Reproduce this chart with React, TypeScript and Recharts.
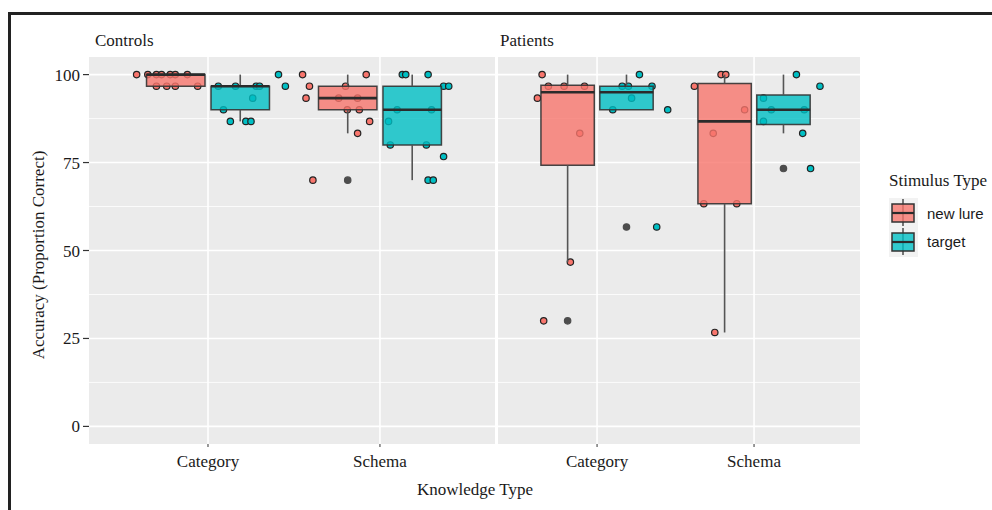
import React from 'react';
import {
  ScatterChart, Scatter, XAxis, YAxis, CartesianGrid,
  ReferenceArea, ReferenceLine
} from 'recharts';

const KNOWLEDGE = ['Category', 'Schema'];
const STIMULI = ['new lure', 'target'];
const COLORS = ['#F8766D', '#00BFC4'];

const Y_TICKS = [0, 25, 50, 75, 100];
const Y_MINOR = [12.5, 37.5, 62.5, 87.5];

// box stats, one row per knowledge type: [lower whisker, Q1, median, Q3, upper whisker]
const controlsLureStats = [[96.7, 96.7, 100, 100, 100], [83.3, 90, 93.3, 96.7, 100]];
const controlsTargetStats = [[86.7, 90, 96.7, 96.7, 100], [70, 80, 90, 96.7, 100]];
const patientsLureStats = [[46.7, 74.2, 95, 97, 100], [26.7, 63.3, 86.7, 97.5, 100]];
const patientsTargetStats = [[90, 90, 95, 96.7, 100], [83.3, 85.8, 90, 94.2, 100]];

// outliers: [knowledge index, stimulus index, value]
const controlsOutliers = [[1, 0, 70]];
const patientsOutliers = [[0, 0, 30], [0, 1, 56.7], [1, 1, 73.3]];

// jittered participant points: [position on knowledge axis (1 = Category, 2 = Schema), accuracy]
const controlsLurePts = [
  [0.585, 100], [0.65, 100], [0.70, 100], [0.73, 100], [0.78, 100], [0.81, 100], [0.88, 100],
  [0.70, 96.7], [0.76, 96.7], [0.81, 96.7], [0.94, 96.7],
  [1.55, 100], [1.92, 100], [1.59, 96.7], [1.80, 96.7],
  [1.57, 93.3], [1.76, 93.3], [1.87, 93.3], [1.81, 90], [1.88, 90],
  [1.94, 86.7], [1.87, 83.3], [1.61, 70],
];
const controlsTargetPts = [
  [1.06, 96.7], [1.16, 96.7], [1.28, 96.7], [1.30, 96.7], [1.45, 96.7],
  [1.26, 93.3], [1.09, 90], [1.13, 86.7], [1.22, 86.7], [1.25, 86.7], [1.41, 100],
  [2.13, 100], [2.15, 100], [2.28, 100], [2.37, 96.7], [2.40, 96.7],
  [2.10, 90], [2.30, 90], [2.05, 86.7], [2.06, 80], [2.27, 80],
  [2.37, 76.7], [2.28, 70], [2.31, 70],
];
const patientsLurePts = [
  [0.65, 100], [0.69, 96.7], [0.79, 96.7], [0.92, 96.7], [0.62, 93.3],
  [0.89, 83.3], [0.83, 46.7], [0.66, 30],
  [1.79, 100], [1.82, 100], [1.62, 96.7], [1.94, 90], [1.74, 83.3],
  [1.68, 63.3], [1.89, 63.3], [1.75, 26.7],
];
const patientsTargetPts = [
  [1.27, 100], [1.16, 96.7], [1.20, 96.7], [1.35, 96.7], [1.22, 93.3],
  [1.10, 90], [1.45, 90], [1.38, 56.7],
  [2.27, 100], [2.42, 96.7], [2.06, 93.3], [2.11, 90], [2.32, 90],
  [2.06, 86.7], [2.31, 83.3], [2.36, 73.3],
];

const DODGE = 0.1875;
const HALF = 0.17;
const SERIF = '"Liberation Serif", "Times New Roman", serif';
const SANS = '"Liberation Sans", Arial, sans-serif';

const toXY = (pts: number[][]) => pts.map(([x, y]) => ({ x, y }));

const dot = (fill: string, stroke: string) => (p: any) => (
  <circle cx={p.cx} cy={p.cy} r={3.2} fill={fill} stroke={stroke} strokeWidth={1.2} />
);

const boxes = (stats: number[][], s: number) =>
  stats.map(([lo, q1, med, q3, hi], i) => {
    const c = i + 1 + (s === 0 ? -DODGE : DODGE);
    const out = [];
    if (hi > q3) out.push(
      <ReferenceLine key={`hi-${s}-${i}`} segment={[{ x: c, y: q3 }, { x: c, y: hi }]} stroke="#555" strokeWidth={1.6} />
    );
    if (lo < q1) out.push(
      <ReferenceLine key={`lo-${s}-${i}`} segment={[{ x: c, y: lo }, { x: c, y: q1 }]} stroke="#555" strokeWidth={1.6} />
    );
    out.push(
      <ReferenceArea key={`box-${s}-${i}`} x1={c - HALF} x2={c + HALF} y1={q1} y2={q3}
        fill={COLORS[s]} fillOpacity={0.8} stroke="#333" strokeOpacity={0.9} strokeWidth={1.5} />
    );
    out.push(
      <ReferenceLine key={`med-${s}-${i}`} segment={[{ x: c - HALF, y: med }, { x: c + HALF, y: med }]} stroke="#2b2b2b" strokeWidth={2.6} />
    );
    return out;
  });

const Panel = ({ left, width, domain, showY, lureStats, targetStats, lurePts, targetPts, outliers }: any) => {
  const outlierData = outliers.map(([k, s, v]: number[]) => ({ x: k + 1 + (s === 0 ? -DODGE : DODGE), y: v }));
  const yw = showY ? 89 : 0;
  return (
    <div style={{ position: 'absolute', left, top: 0, width, height: 510 }}>
      {/* bottom layer: panel, grid, axes and jittered points */}
      <div style={{ position: 'absolute', left: 0, top: 0 }}>
        <ScatterChart width={width} height={510} margin={{ top: 57, right: 0, bottom: 36, left: 0 }}>
          <CartesianGrid fill="#EBEBEB" stroke="#FFFFFF" strokeWidth={0.8} horizontalValues={Y_MINOR} vertical={false} />
          <CartesianGrid stroke="#FFFFFF" strokeWidth={1.6} horizontalValues={Y_TICKS} verticalValues={[1, 2]} />
          <XAxis type="number" dataKey="x" domain={domain} ticks={[1, 2]} allowDataOverflow
            tickFormatter={(v: number) => KNOWLEDGE[v - 1]} axisLine={false} height={30}
            tickSize={3} tickMargin={8} tickLine={{ stroke: '#333' }}
            tick={{ fill: '#1a1a1a', fontSize: 17, fontFamily: SERIF }} />
          <YAxis type="number" dataKey="y" domain={[-5, 105]} ticks={Y_TICKS} allowDataOverflow
            hide={!showY} width={89} axisLine={false} tickSize={6} tickMargin={3}
            tickLine={{ stroke: '#333', strokeWidth: 1.2 }}
            tick={{ fill: '#1a1a1a', fontSize: 17, fontFamily: SERIF }} />
          <Scatter name={STIMULI[0]} data={toXY(lurePts)} shape={dot(COLORS[0], '#222')} isAnimationActive={false} />
          <Scatter name={STIMULI[1]} data={toXY(targetPts)} shape={dot(COLORS[1], '#222')} isAnimationActive={false} />
        </ScatterChart>
      </div>
      {/* top layer: boxplots drawn over the points, as ggplot does */}
      <div style={{ position: 'absolute', left: 0, top: 0, pointerEvents: 'none' }}>
        <ScatterChart width={width} height={510} margin={{ top: 57, right: 0, bottom: 66, left: yw }}>
          <XAxis type="number" dataKey="x" domain={domain} allowDataOverflow hide />
          <YAxis type="number" dataKey="y" domain={[-5, 105]} allowDataOverflow hide />
          {boxes(lureStats, 0)}
          {boxes(targetStats, 1)}
          <Scatter name="outlier" data={outlierData} shape={dot('#4d4d4d', '#4d4d4d')} isAnimationActive={false} />
        </ScatterChart>
      </div>
    </div>
  );
};

const text = (style: React.CSSProperties) => ({
  position: 'absolute' as const, lineHeight: 1, whiteSpace: 'nowrap' as const, color: '#1a1a1a', ...style,
});

export default function App() {
  return (
    <div style={{ position: 'absolute', left: 0, top: 0, width: 992, height: 510, background: '#fff', overflow: 'hidden' }}>
      {/* frame */}
      <div style={{ position: 'absolute', left: 8, top: 12, right: -10, bottom: -10, borderTop: '3px solid #222', borderLeft: '3px solid #222' }} />

      <Panel left={0} width={495} domain={[0.308, 2.669]} showY
        lureStats={controlsLureStats} targetStats={controlsTargetStats}
        lurePts={controlsLurePts} targetPts={controlsTargetPts} outliers={controlsOutliers} />
      <Panel left={498} width={362} domain={[0.369, 2.675]} showY={false}
        lureStats={patientsLureStats} targetStats={patientsTargetStats}
        lurePts={patientsLurePts} targetPts={patientsTargetPts} outliers={patientsOutliers} />

      <div style={text({ left: 95, top: 32, fontSize: 17, fontFamily: SERIF })}>Controls</div>
      <div style={text({ left: 500, top: 32, fontSize: 17, fontFamily: SERIF })}>Patients</div>

      <div style={text({ left: 475, top: 481, fontSize: 17, fontFamily: SERIF, transform: 'translateX(-50%)' })}>Knowledge Type</div>
      <div style={text({ left: 38, top: 255, fontSize: 17, fontFamily: SERIF, transform: 'translate(-50%, -50%) rotate(-90deg)' })}>
        Accuracy (Proportion Correct)
      </div>

      {/* legend */}
      <div style={text({ left: 889, top: 172, fontSize: 17, fontFamily: SERIF })}>Stimulus Type</div>
      <svg style={{ position: 'absolute', left: 889, top: 198 }} width={30} height={60}>
        <rect x={0} y={0} width={29} height={59} fill="#F2F2F2" />
        {STIMULI.map((s, k) => (
          <g key={s} transform={`translate(0, ${k * 29})`}>
            <line x1={14} x2={14} y1={1} y2={28} stroke="#555" strokeWidth={1.6} />
            <rect x={3} y={6} width={22} height={18} fill={COLORS[k]} fillOpacity={0.8} stroke="#333" strokeWidth={1.5} />
            <line x1={3} x2={25} y1={15} y2={15} stroke="#2b2b2b" strokeWidth={2.2} />
          </g>
        ))}
      </svg>
      <div style={text({ left: 927, top: 206, fontSize: 15, fontFamily: SANS })}>{STIMULI[0]}</div>
      <div style={text({ left: 927, top: 234, fontSize: 15, fontFamily: SANS })}>{STIMULI[1]}</div>
    </div>
  );
}
